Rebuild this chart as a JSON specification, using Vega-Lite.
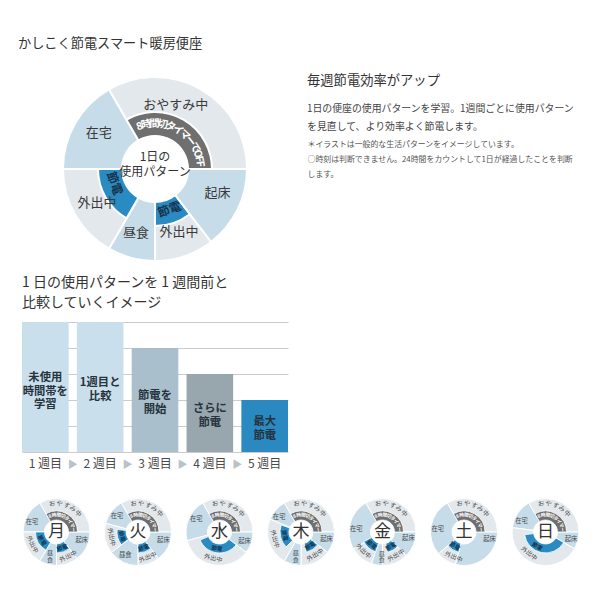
{
  "$schema": "https://vega.github.io/schema/vega-lite/v6.json",
  "background": "white",
  "padding": {"left": 18, "top": 36, "right": 5, "bottom": 5},
  "config": {
    "font": "Noto Sans CJK JP",
    "view": {"stroke": null},
    "title": {"fontWeight": "normal", "color": "#333333", "anchor": "start", "frame": "group", "subtitleFont": "Noto Sans CJK JP"}
  },
  "bounds": "flush",
  "spacing": 184,
  "resolve": {"scale": {"color": "independent", "theta": "independent", "angle": "independent"}},
  "vconcat": [
    {
      "bounds": "flush",
      "spacing": 19,
      "resolve": {"scale": {"color": "independent", "theta": "independent", "angle": "independent"}},
      "hconcat": [
        {
          "width": 266,
          "height": 62,
          "title": {"text": "かしこく節電スマート暖房便座", "fontSize": 13.2, "offset": 22, "dx": -4},
          "layer": [
            {
              "data": {"values": [
                {"start": 18, "end": 22, "tone": "light"},
                {"start": 22, "end": 30, "tone": "gray"},
                {"start": 6, "end": 9.5, "tone": "light"},
                {"start": 9.5, "end": 12, "tone": "gray"},
                {"start": 12, "end": 14, "tone": "light"},
                {"start": 14, "end": 18, "tone": "gray"}
              ]},
              "mark": {"type": "arc", "radius": 92, "radius2": 33, "stroke": "white", "strokeWidth": 2},
              "encoding": {
                "theta": {"field": "start", "type": "quantitative", "scale": {"domain": [0, 24], "range": [0, 6.283185307179586], "nice": false, "zero": false}},
                "theta2": {"field": "end"},
                "color": {"field": "tone", "type": "nominal", "scale": {"domain": ["light", "gray", "timer", "save"], "range": ["#c6dce9", "#e3e8ec", "#6f6f6f", "#2a8bc2"]}, "legend": null}
              }
            },
            {
              "data": {"values": [
                {"start": 22, "end": 30, "tone": "timer"},
                {"start": 9.5, "end": 12, "tone": "save"},
                {"start": 14, "end": 18, "tone": "save"}
              ]},
              "mark": {"type": "arc", "radius": 57, "radius2": 33, "stroke": "white", "strokeWidth": 2},
              "encoding": {
                "theta": {"field": "start", "type": "quantitative"},
                "theta2": {"field": "end"},
                "color": {"field": "tone", "type": "nominal", "legend": null}
              }
            },
            {
              "data": {"values": [
                {"h": 1.2, "t": "おやすみ中"},
                {"h": 20.2, "t": "在宅"},
                {"h": 7.4, "t": "起床"},
                {"h": 10.6, "t": "外出中"},
                {"h": 13.1, "t": "昼食"},
                {"h": 16, "t": "外出中"}
              ]},
              "mark": {"type": "text", "radius": 67, "fontSize": 13, "color": "#3a3a3a"},
              "encoding": {
                "theta": {"field": "h", "type": "quantitative"},
                "text": {"field": "t"}
              }
            },
            {
              "data": {"values": [
                {"h": 22.68, "t": "8"}, {"h": 23.25, "t": "時"}, {"h": 23.95, "t": "間"}, {"h": 0.65, "t": "切"},
                {"h": 1.35, "t": "タ"}, {"h": 2.05, "t": "イ"}, {"h": 2.75, "t": "マ"}, {"h": 3.45, "t": "ー"},
                {"h": 4.15, "t": "で"}, {"h": 4.72, "t": "O"}, {"h": 5.15, "t": "F"}, {"h": 5.58, "t": "F"}
              ]},
              "mark": {"type": "text", "radius": 45, "fontSize": 10.5, "fontWeight": "bold", "color": "white"},
              "encoding": {
                "theta": {"field": "h", "type": "quantitative"},
                "angle": {"field": "h", "type": "quantitative", "scale": {"domain": [0, 24], "range": [0, 360], "nice": false, "zero": false}, "legend": null},
                "text": {"field": "t"}
              }
            },
            {
              "data": {"values": [
                {"h": 16.7, "t": "節電"},
                {"h": 10.7, "t": "節電"}
              ]},
              "mark": {"type": "text", "radius": 43, "fontSize": 12, "fontWeight": "bold", "color": "#17324a"},
              "encoding": {
                "theta": {"field": "h", "type": "quantitative"},
                "angle": {"field": "h", "type": "quantitative", "scale": {"domain": [0, 24], "range": [180, 540], "nice": false, "zero": false}, "legend": null},
                "text": {"field": "t"}
              }
            },
            {
              "data": {"values": [{"t": "1日の\n使用パターン"}]},
              "mark": {"type": "text", "fontSize": 12, "lineHeight": 15, "lineBreak": "\n", "color": "#333333", "dy": -12},
              "encoding": {"text": {"field": "t"}}
            }
          ],
          "resolve": {"scale": {"angle": "independent"}}
        },
        {
          "width": 1,
          "height": 6,
          "title": {
            "text": "毎週節電効率がアップ",
            "subtitle": ["1日の便座の使用パターンを学習。1週間ごとに使用パターン", "を見直して、より効率よく節電します。"],
            "fontSize": 13.3,
            "subtitleFontSize": 9.9,
            "subtitleLineHeight": 18,
            "subtitlePadding": 17,
            "subtitleColor": "#444444",
            "offset": 6
          },
          "data": {"values": [{"t": "＊イラストは一般的な生活パターンをイメージしています。\n○時刻は判断できません。24時間をカウントして1日が経過したことを判断\nします。"}]},
          "mark": {"type": "text", "align": "left", "baseline": "top", "lineBreak": "\n", "fontSize": 7.9, "lineHeight": 15, "color": "#555555"},
          "encoding": {"text": {"field": "t"}}
        }
      ]
    },
    {
      "bounds": "flush",
      "spacing": 46.5,
      "resolve": {"scale": {"color": "independent", "theta": "independent", "angle": "independent"}},
      "vconcat": [
        {
          "width": 266,
          "height": 130,
          "title": {"text": ["1 日の使用パターンを 1 週間前と", "比較していくイメージ"], "fontSize": 14, "lineHeight": 20, "offset": 12},
          "data": {"values": [
            {"week": "1 週目", "level": 5, "t": "未使用\n時間帯を\n学習"},
            {"week": "2 週目", "level": 5, "t": "1週目と\n比較"},
            {"week": "3 週目", "level": 4, "t": "節電を\n開始"},
            {"week": "4 週目", "level": 3, "t": "さらに\n節電"},
            {"week": "5 週目", "level": 2, "t": "最大\n節電"}
          ]},
          "layer": [
            {
              "mark": {"type": "bar"},
              "encoding": {
                "x": {"field": "week", "type": "ordinal", "sort": null, "scale": {"paddingInner": 0.15, "paddingOuter": 0},
                      "axis": {"title": null, "ticks": false, "domain": false, "labelAngle": 0, "labelFontSize": 12, "labelColor": "#4a4a4a", "labelPadding": 6}},
                "y": {"field": "level", "type": "quantitative", "scale": {"domain": [0, 5], "nice": false},
                      "axis": {"values": [0, 1, 2, 3, 4, 5], "grid": true, "gridColor": "#cccccc", "gridWidth": 1, "labels": false, "ticks": false, "domain": false, "title": null}},
                "color": {"field": "week", "type": "nominal", "scale": {"range": ["#c9dfeb", "#c9dfeb", "#a9bfcc", "#98a6ae", "#2b89c1"]}, "legend": null}
              }
            },
            {
              "transform": [{"filter": "datum.week === '1 週目'"}],
              "mark": {"type": "text", "lineBreak": "\n", "fontSize": 11.3, "fontWeight": "bold", "lineHeight": 13.5, "color": "#26323c", "dy": -9},
              "encoding": {
                "x": {"field": "week", "type": "ordinal", "sort": null},
                "y": {"field": "level", "type": "quantitative", "scale": {"domain": [0, 5], "range": [130, 65], "nice": false}, "axis": null},
                "text": {"field": "t"}
              }
            },
            {
              "transform": [{"filter": "datum.week !== '1 週目'"}],
              "mark": {"type": "text", "lineBreak": "\n", "fontSize": 11.3, "fontWeight": "bold", "lineHeight": 13.5, "color": "#26323c", "dy": -4},
              "encoding": {
                "x": {"field": "week", "type": "ordinal", "sort": null},
                "y": {"field": "level", "type": "quantitative", "scale": {"domain": [0, 5], "range": [130, 65], "nice": false}, "axis": null},
                "text": {"field": "t"}
              }
            },
            {
              "transform": [{"filter": "datum.week !== '1 週目'"}],
              "mark": {"type": "text", "text": "▶", "fontSize": 10, "color": "#b9c2c8", "dx": -27.4, "dy": 13},
              "encoding": {
                "x": {"field": "week", "type": "ordinal", "sort": null},
                "y": {"datum": 0, "type": "quantitative", "scale": {"domain": [0, 5], "nice": false}, "axis": null}
              }
            }
          ],
          "resolve": {"scale": {"y": "independent"}}
        },
        {
          "data": {"values": [
            {"kind": "seg", "day": ["月", "火", "水", "木", "金", "土", "日"], "start": 22, "end": 30, "tone": "gray"},
            {"kind": "band", "day": ["月", "火", "水", "木", "金", "土", "日"], "start": 22, "end": 30, "tone": "timer"},
            {"kind": "och", "day": ["月", "火", "水", "木", "金", "土", "日"], "h": 23.4, "t": "お"},
            {"kind": "och", "day": ["月", "火", "水", "木", "金", "土", "日"], "h": 0.4, "t": "や"},
            {"kind": "och", "day": ["月", "火", "水", "木", "金", "土", "日"], "h": 1.4, "t": "す"},
            {"kind": "och", "day": ["月", "火", "水", "木", "金", "土", "日"], "h": 2.3, "t": "み"},
            {"kind": "och", "day": ["月", "火", "水", "木", "金", "土", "日"], "h": 3.3, "t": "中"},
            {"kind": "tch", "day": ["月", "火", "水", "木", "金", "土", "日"], "h": 22.5, "t": "8"},
            {"kind": "tch", "day": ["月", "火", "水", "木", "金", "土", "日"], "h": 23.5, "t": "時"},
            {"kind": "tch", "day": ["月", "火", "水", "木", "金", "土", "日"], "h": 0.5, "t": "間"},
            {"kind": "tch", "day": ["月", "火", "水", "木", "金", "土", "日"], "h": 1.5, "t": "切"},
            {"kind": "tch", "day": ["月", "火", "水", "木", "金", "土", "日"], "h": 2.5, "t": "タ"},
            {"kind": "tch", "day": ["月", "火", "水", "木", "金", "土", "日"], "h": 3.5, "t": "イ"},
            {"kind": "tch", "day": ["月", "火", "水", "木", "金", "土", "日"], "h": 4.5, "t": "マ"},
            {"kind": "tch", "day": ["月", "火", "水", "木", "金", "土", "日"], "h": 5.5, "t": "ー"},
            {"kind": "day", "day": ["月"], "t": "月"},
            {"kind": "day", "day": ["火"], "t": "火"},
            {"kind": "day", "day": ["水"], "t": "水"},
            {"kind": "day", "day": ["木"], "t": "木"},
            {"kind": "day", "day": ["金"], "t": "金"},
            {"kind": "day", "day": ["土"], "t": "土"},
            {"kind": "day", "day": ["日"], "t": "日"},

            {"kind": "seg", "day": ["月"], "start": 18, "end": 22, "tone": "light"},
            {"kind": "seg", "day": ["月"], "start": 6, "end": 9.5, "tone": "light"},
            {"kind": "seg", "day": ["月"], "start": 9.5, "end": 12, "tone": "gray"},
            {"kind": "seg", "day": ["月"], "start": 12, "end": 14, "tone": "light"},
            {"kind": "seg", "day": ["月"], "start": 14, "end": 18, "tone": "gray"},
            {"kind": "band", "day": ["月"], "start": 9.5, "end": 12, "tone": "save"},
            {"kind": "band", "day": ["月"], "start": 14, "end": 18, "tone": "save"},
            {"kind": "lab", "day": ["月"], "h": 19.5, "t": "在宅"},
            {"kind": "lab", "day": ["月"], "h": 7.2, "t": "起床"},
            {"kind": "labr", "day": ["月"], "h": 10.3, "t": "外出中"},
            {"kind": "labv", "day": ["月"], "h": 13, "t": "昼\n食"},
            {"kind": "labr", "day": ["月"], "h": 16.2, "t": "外出中"},
            {"kind": "save", "day": ["月"], "h": 10.7, "t": "節電"},
            {"kind": "save", "day": ["月"], "h": 16, "t": "節電"},

            {"kind": "seg", "day": ["火"], "start": 19, "end": 22, "tone": "light"},
            {"kind": "seg", "day": ["火"], "start": 6, "end": 9.5, "tone": "light"},
            {"kind": "seg", "day": ["火"], "start": 9.5, "end": 12, "tone": "gray"},
            {"kind": "seg", "day": ["火"], "start": 12, "end": 15.5, "tone": "light"},
            {"kind": "seg", "day": ["火"], "start": 15.5, "end": 19, "tone": "gray"},
            {"kind": "band", "day": ["火"], "start": 9.5, "end": 12, "tone": "save"},
            {"kind": "band", "day": ["火"], "start": 15.5, "end": 18.5, "tone": "save"},
            {"kind": "lab", "day": ["火"], "h": 20.5, "t": "在宅"},
            {"kind": "lab", "day": ["火"], "h": 7.1, "t": "起床"},
            {"kind": "labr", "day": ["火"], "h": 10.6, "t": "外出中"},
            {"kind": "lab", "day": ["火"], "h": 13.9, "t": "昼食"},
            {"kind": "labr", "day": ["火"], "h": 17.3, "t": "外出中"},
            {"kind": "save", "day": ["火"], "h": 10.7, "t": "節電"},
            {"kind": "save", "day": ["火"], "h": 17, "t": "節電"},

            {"kind": "seg", "day": ["水"], "start": 17, "end": 22, "tone": "light"},
            {"kind": "seg", "day": ["水"], "start": 6, "end": 8.5, "tone": "light"},
            {"kind": "seg", "day": ["水"], "start": 8.5, "end": 17, "tone": "gray"},
            {"kind": "band", "day": ["水"], "start": 8.5, "end": 16.5, "tone": "save"},
            {"kind": "lab", "day": ["水"], "h": 19.9, "t": "在宅"},
            {"kind": "lab", "day": ["水"], "h": 7.3, "t": "起床"},
            {"kind": "labr", "day": ["水"], "h": 12.9, "t": "外出中"},
            {"kind": "save", "day": ["水"], "h": 12.6, "t": "節電"},

            {"kind": "seg", "day": ["木"], "start": 19.5, "end": 22, "tone": "light"},
            {"kind": "seg", "day": ["木"], "start": 6, "end": 8.5, "tone": "light"},
            {"kind": "seg", "day": ["木"], "start": 8.5, "end": 12, "tone": "gray"},
            {"kind": "seg", "day": ["木"], "start": 12, "end": 14, "tone": "light"},
            {"kind": "seg", "day": ["木"], "start": 14, "end": 19.5, "tone": "gray"},
            {"kind": "band", "day": ["木"], "start": 8.5, "end": 11, "tone": "save"},
            {"kind": "band", "day": ["木"], "start": 15, "end": 19.3, "tone": "save"},
            {"kind": "lab", "day": ["木"], "h": 20.3, "t": "在宅"},
            {"kind": "lab", "day": ["木"], "h": 7, "t": "起床"},
            {"kind": "labr", "day": ["木"], "h": 9.9, "t": "外出中"},
            {"kind": "labv", "day": ["木"], "h": 12.8, "t": "昼\n食"},
            {"kind": "labr", "day": ["木"], "h": 17, "t": "外出中"},
            {"kind": "save", "day": ["木"], "h": 9.8, "t": "節電"},
            {"kind": "save", "day": ["木"], "h": 17.2, "t": "節電"},

            {"kind": "seg", "day": ["金"], "start": 16, "end": 22, "tone": "light"},
            {"kind": "seg", "day": ["金"], "start": 6, "end": 9, "tone": "light"},
            {"kind": "seg", "day": ["金"], "start": 9, "end": 12, "tone": "gray"},
            {"kind": "seg", "day": ["金"], "start": 12, "end": 13.3, "tone": "light"},
            {"kind": "seg", "day": ["金"], "start": 13.3, "end": 16, "tone": "gray"},
            {"kind": "band", "day": ["金"], "start": 9, "end": 11, "tone": "save"},
            {"kind": "band", "day": ["金"], "start": 13.3, "end": 16.2, "tone": "save"},
            {"kind": "lab", "day": ["金"], "h": 18.5, "t": "在宅"},
            {"kind": "lab", "day": ["金"], "h": 6.8, "t": "起床"},
            {"kind": "labr", "day": ["金"], "h": 10, "t": "外出中"},
            {"kind": "labv", "day": ["金"], "h": 12.1, "t": "昼\n食"},
            {"kind": "labr", "day": ["金"], "h": 15, "t": "外出中"},
            {"kind": "save", "day": ["金"], "h": 10, "t": "節電"},
            {"kind": "save", "day": ["金"], "h": 14.7, "t": "節電"},

            {"kind": "seg", "day": ["土"], "start": 15.3, "end": 22, "tone": "light"},
            {"kind": "seg", "day": ["土"], "start": 6, "end": 13, "tone": "light"},
            {"kind": "seg", "day": ["土"], "start": 13, "end": 15.3, "tone": "gray"},
            {"kind": "band", "day": ["土"], "start": 13, "end": 15.3, "tone": "save"},
            {"kind": "lab", "day": ["土"], "h": 18.5, "t": "在宅"},
            {"kind": "lab", "day": ["土"], "h": 7, "t": "起床"},
            {"kind": "labr", "day": ["土"], "h": 13.5, "t": "外出中"},
            {"kind": "save", "day": ["土"], "h": 14.2, "t": "節電"},

            {"kind": "seg", "day": ["日"], "start": 18.5, "end": 22, "tone": "light"},
            {"kind": "seg", "day": ["日"], "start": 6, "end": 8, "tone": "light"},
            {"kind": "seg", "day": ["日"], "start": 8, "end": 18.5, "tone": "gray"},
            {"kind": "band", "day": ["日"], "start": 8, "end": 17.5, "tone": "save"},
            {"kind": "lab", "day": ["日"], "h": 19.7, "t": "在宅"},
            {"kind": "lab", "day": ["日"], "h": 7, "t": "起床"},
            {"kind": "labr", "day": ["日"], "h": 14.5, "t": "外出中"},
            {"kind": "save", "day": ["日"], "h": 14, "t": "節電"}
          ]},
          "transform": [{"flatten": ["day"]}],
          "bounds": "flush",
          "spacing": 12.5,
          "facet": {"column": {"field": "day", "type": "nominal", "sort": ["月", "火", "水", "木", "金", "土", "日"], "header": {"labels": false, "title": null}}},
          "spec": {
            "width": 69,
            "height": 67,
            "layer": [
              {
                "transform": [{"filter": "datum.kind === 'seg'"}],
                "mark": {"type": "arc", "radius": 33.5, "radius2": 12, "stroke": "white", "strokeWidth": 1},
                "encoding": {
                  "theta": {"field": "start", "type": "quantitative", "scale": {"domain": [0, 24], "range": [0, 6.283185307179586], "nice": false, "zero": false}},
                  "theta2": {"field": "end"},
                  "color": {"field": "tone", "type": "nominal", "scale": {"domain": ["light", "gray", "timer", "save"], "range": ["#c6dce9", "#e3e8ec", "#6f6f6f", "#2a8bc2"]}, "legend": null}
                }
              },
              {
                "transform": [{"filter": "datum.kind === 'band'"}],
                "mark": {"type": "arc", "radius": 21, "radius2": 12, "stroke": "white", "strokeWidth": 0.8},
                "encoding": {
                  "theta": {"field": "start", "type": "quantitative"},
                  "theta2": {"field": "end"},
                  "color": {"field": "tone", "type": "nominal", "legend": null}
                }
              },
              {
                "transform": [{"filter": "datum.kind === 'lab'"}],
                "mark": {"type": "text", "radius": 26.5, "fontSize": 6.3, "color": "#4a4a4a"},
                "encoding": {
                  "theta": {"field": "h", "type": "quantitative"},
                  "text": {"field": "t"}
                }
              },
              {
                "transform": [{"filter": "datum.kind === 'labv'"}],
                "mark": {"type": "text", "radius": 25, "fontSize": 6, "lineHeight": 6.8, "lineBreak": "\n", "color": "#4a4a4a", "dy": -3.4},
                "encoding": {
                  "theta": {"field": "h", "type": "quantitative"},
                  "text": {"field": "t"}
                }
              },
              {
                "transform": [{"filter": "datum.kind === 'labr'"}],
                "mark": {"type": "text", "radius": 27, "fontSize": 6.2, "color": "#4a4a4a"},
                "encoding": {
                  "theta": {"field": "h", "type": "quantitative"},
                  "angle": {"field": "h", "type": "quantitative", "scale": {"domain": [0, 24], "range": [180, 540], "nice": false, "zero": false}, "legend": null},
                  "text": {"field": "t"}
                }
              },
              {
                "transform": [{"filter": "datum.kind === 'och'"}],
                "mark": {"type": "text", "radius": 28.5, "fontSize": 6.3, "color": "#4a4a4a"},
                "encoding": {
                  "theta": {"field": "h", "type": "quantitative"},
                  "angle": {"field": "h", "type": "quantitative", "scale": {"domain": [0, 24], "range": [0, 360], "nice": false, "zero": false}, "legend": null},
                  "text": {"field": "t"}
                }
              },
              {
                "transform": [{"filter": "datum.kind === 'tch'"}],
                "mark": {"type": "text", "radius": 16.5, "fontSize": 4.8, "fontWeight": "bold", "color": "white"},
                "encoding": {
                  "theta": {"field": "h", "type": "quantitative"},
                  "angle": {"field": "h", "type": "quantitative", "scale": {"domain": [0, 24], "range": [0, 360], "nice": false, "zero": false}, "legend": null},
                  "text": {"field": "t"}
                }
              },
              {
                "transform": [{"filter": "datum.kind === 'save'"}],
                "mark": {"type": "text", "radius": 16.5, "fontSize": 5.5, "fontWeight": "bold", "color": "#17324a"},
                "encoding": {
                  "theta": {"field": "h", "type": "quantitative"},
                  "angle": {"field": "h", "type": "quantitative", "scale": {"domain": [0, 24], "range": [180, 540], "nice": false, "zero": false}, "legend": null},
                  "text": {"field": "t"}
                }
              },
              {
                "transform": [{"filter": "datum.kind === 'day'"}],
                "mark": {"type": "text", "fontSize": 17, "color": "#333333"},
                "encoding": {"text": {"field": "t"}}
              }
            ],
            "resolve": {"scale": {"angle": "independent"}}
          }
        }
      ]
    }
  ]
}
